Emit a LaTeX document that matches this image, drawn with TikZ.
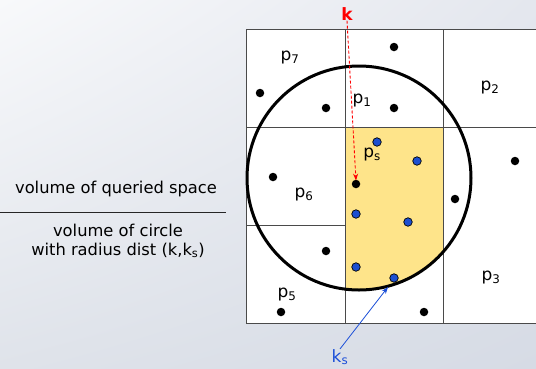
\documentclass[tikz,border=0pt]{standalone}
\usepackage{fontspec}
\setmainfont{DejaVu Sans}
\usetikzlibrary{arrows.meta,shadings}
\definecolor{bgA}{HTML}{F8F9FB}
\definecolor{bgB}{HTML}{E4E7EE}
\definecolor{bgC}{HTML}{DFE3EA}
\definecolor{bgD}{HTML}{D6DBE5}
\definecolor{qyellow}{HTML}{FEE48A}
\definecolor{dotblue}{HTML}{1C4FD0}
\definecolor{gridc}{HTML}{4A4A4A}
\definecolor{ksblue}{HTML}{1B4FD8}
\begin{document}
\begin{tikzpicture}[x=1pt,y=-1pt,
  gridline/.style={draw=gridc,line width=0.9pt},
  bdot/.style={circle,fill=black,inner sep=0pt,minimum size=8.5pt},
  bluedot/.style={circle,fill=dotblue,draw=black,line width=0.7pt,inner sep=0pt,minimum size=8.5pt},
  plabel/.style={font=\fontsize{17}{20}\selectfont,text=black,inner sep=0pt},
  txt/.style={font=\fontsize{16.3}{19}\selectfont,text=black,align=center,inner sep=0pt}]
\useasboundingbox (0,0) rectangle (536,368);
\shade[upper left=bgA,upper right=bgB,lower left=bgC,lower right=bgD] (0,0) rectangle (536,368);
% cells
\fill[white] (246,29) rectangle (536,323);
\begin{scope}
  \clip (359,178) circle[radius=112pt];
  \fill[qyellow] (345,127) rectangle (443,323);
\end{scope}
\draw[gridline] (246,29) -- (536,29);
\draw[gridline] (246,127) -- (536,127);
\draw[gridline] (246,323) -- (536,323);
\draw[gridline] (246,225) -- (345,225);
\draw[gridline] (246,29) -- (246,323);
\draw[gridline] (345,29) -- (345,323);
\draw[gridline] (443,29) -- (443,323);
% circle
\draw[black,line width=3pt] (359,178) circle[radius=112pt];
% black points
\node[bdot] (d1) at (394,47) {};
\node[bdot] (d2) at (260,93) {};
\node[bdot] (d3) at (326,108) {};
\node[bdot] (d4) at (394,108) {};
\node[bdot] (d5) at (515,161) {};
\node[bdot] (d6) at (273,177) {};
\node[bdot] (dq) at (356,184) {};
\node[bdot] (d7) at (455,199) {};
\node[bdot] (d8) at (326,251) {};
\node[bdot] (d9) at (281,312) {};
\node[bdot] (d10) at (424,312) {};
% blue points
\node[bluedot] (b1) at (377,142) {};
\node[bluedot] (b2) at (417,161) {};
\node[bluedot] (b3) at (356,214) {};
\node[bluedot] (b4) at (408,222) {};
\node[bluedot] (b5) at (356,267) {};
\node[bluedot] (b6) at (394,278) {};
% labels
\node[plabel] (p7) at (290,58) {p\textsubscript{7}};
\node[plabel] (p1) at (362,101) {p\textsubscript{1}};
\node[plabel] (p2) at (490,88) {p\textsubscript{2}};
\node[plabel] (ps) at (372,155) {p\textsubscript{s}};
\node[plabel] (p6) at (304,195) {p\textsubscript{6}};
\node[plabel] (p3) at (491,278) {p\textsubscript{3}};
\node[plabel] (p5) at (287,295) {p\textsubscript{5}};
% query point k
\node[plabel,text=red,font=\fontsize{17}{20}\selectfont\bfseries] (k) at (347,14) {k};
\draw[red,line width=0.9pt,dash pattern=on 3pt off 2pt,-{Stealth[length=7pt,width=5pt]}] (k.south) -- ([yshift=-1pt]dq.north);
% ks
\node[plabel,text=ksblue] (ks) at (340,357) {k\textsubscript{s}};
\coordinate (kt) at (388,287);
\draw[ksblue,line width=0.8pt,-{Stealth[length=7pt,width=5pt]}] (ks.north) -- (kt);
% fraction
\node[txt] (num) at (116,189) {volume of queried space};
\draw[black!85,line width=1pt] (0,212) -- (226,212);
\node[txt] (den) at (118,241) {volume of circle\\with radius dist (k,k\textsubscript{s})};
\end{tikzpicture}
\end{document}
